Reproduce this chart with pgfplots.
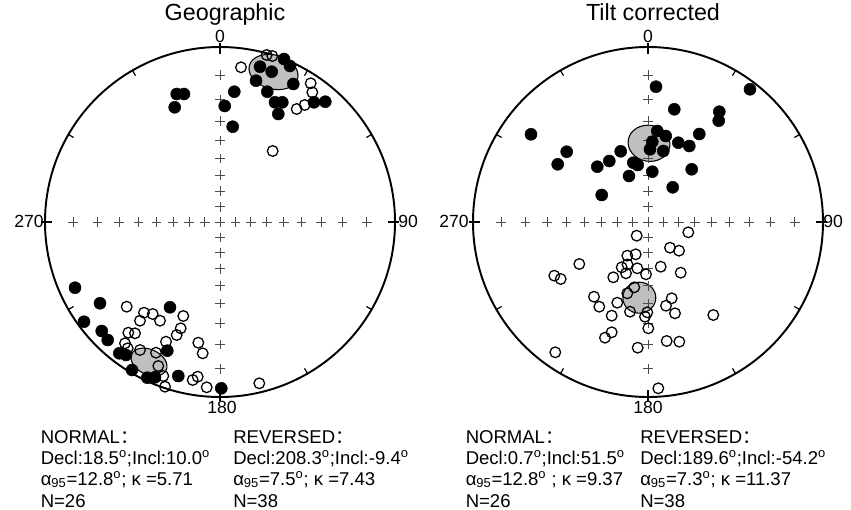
\documentclass[border=0pt]{standalone}
\usepackage{fontspec}
\setmainfont{Liberation Sans}
\newfontfamily\cjk{Noto Sans CJK SC}
\usepackage{pgfplots}
\pgfplotsset{compat=1.18}
\newcommand\tl{\fontsize{13.2}{15}\selectfont}
\newcommand\st{\fontsize{13.9}{16}\selectfont}
\newcommand\ti{\fontsize{17.5}{20}\selectfont}
\newcommand\dg{\textsuperscript{o}}
\pgfplotsset{
  net/.style={anchor=center, scale only axis, width=262.5pt, height=262.5pt,
    xmin=-175, xmax=175, ymin=-175, ymax=175, hide axis, clip=false},
  crosses/.style={only marks, mark=+, mark size=3.6pt, black!70, mark options={line width=0.65pt}},
  fillpt/.style={only marks, mark=*, mark size=4.5pt, mark options={fill=black, draw=black}},
  openpt/.style={only marks, mark=o, mark size=4pt, mark options={fill=white, draw=black, line width=0.95pt}},
}
\newcommand\netframe{%
  \draw[line width=1.45pt] (axis cs:0,0) circle[radius=175];
  \pgfplotsinvokeforeach{30,60,120,150,210,240,300,330}{%
    \draw[line width=0.9pt] (axis cs:{175*sin(##1)},{175*cos(##1)}) -- (axis cs:{169*sin(##1)},{169*cos(##1)});}
  \pgfplotsinvokeforeach{0,90,180,270}{%
    \draw[line width=0.9pt] (axis cs:{179*sin(##1)},{179*cos(##1)}) -- (axis cs:{168*sin(##1)},{168*cos(##1)});}
  \addplot[crosses] coordinates {
    (-146.8,0) (-122.5,0) (-101,0) (-81.6,0) (-63.7,0) (-46.9,0) (-30.9,0) (-15.3,0) (0,0)
    (15.3,0) (30.9,0) (46.9,0) (63.7,0) (81.6,0) (101,0) (122.5,0) (146.8,0)
    (0,-146.8) (0,-122.5) (0,-101) (0,-81.6) (0,-63.7) (0,-46.9) (0,-30.9) (0,-15.3)
    (0,15.3) (0,30.9) (0,46.9) (0,63.7) (0,81.6) (0,101) (0,122.5) (0,146.8)};
}
\begin{document}
\begin{tikzpicture}
\path[use as bounding box] (0,0) rectangle (638.25pt,-382.5pt);

% ---------- Geographic ----------
\begin{axis}[net, at={(165pt,-166.5pt)}]
\netframe
\draw[fill=black!25, line width=0.8pt, rotate around={-15:(axis cs:53.5,150)}] (axis cs:53.5,150) ellipse[x radius=25, y radius=17];
\draw[fill=black!25, line width=0.8pt, rotate around={-25:(axis cs:-71,-140)}] (axis cs:-71,-140) ellipse[x radius=19, y radius=12.5];
% normal, lower hemisphere
\addplot[fillpt] coordinates {
 (64,163) (70,156) (40,155.3) (51.7,150.3) (36,141.3) (73.3,138) (47.3,130.3)
 (14.3,130.3) (-43.3,128) (-36,128) (-45.3,114.7) (4.7,116) (55,119.7) (62.3,119.7)
 (58.3,108) (94,119.7) (105.3,120.3) (12.7,95.3)};
% normal, upper hemisphere
\addplot[openpt] coordinates {
 (46.7,167) (52.3,166) (21,154.7) (90.7,138.7) (92.3,129.7) (84.7,117) (76.7,113) (52.7,71)};
% reversed, upper hemisphere
\addplot[openpt] coordinates {
 (-93.3,-84.7) (-76,-90.7) (-67.3,-92) (-80,-98.7) (-60,-98.7) (-36.7,-94) (-39.3,-106.3)
 (-43.3,-113) (-91.7,-110.7) (-85,-111.3) (-95,-121.3) (-92.3,-126.3) (-54,-119.7)
 (-80,-128) (-64,-130.7) (-21.7,-120.7) (-17.3,-131.3) (-61.7,-144) (-56.7,-154)
 (-55,-164.7) (-27.3,-158) (-22.3,-154.7) (-13.3,-165.3) (39.3,-161.3)};
% reversed, lower hemisphere
\addplot[fillpt] coordinates {
 (-145,-65.7) (-120,-81.3) (-50,-85.3) (-136,-99.7) (-118.3,-109) (-112.3,-118)
 (-100.7,-131.3) (-94,-133) (-52.7,-128.7) (-88,-148) (-72.7,-155.7) (-65,-155.3)
 (-41.7,-154) (1.3,-166.3)};
\end{axis}

% ---------- Tilt corrected ----------
\begin{axis}[net, at={(486pt,-166.5pt)}]
\netframe
\draw[fill=black!25, line width=0.8pt, rotate around={-10:(axis cs:1,78.7)}] (axis cs:1,78.7) ellipse[x radius=21, y radius=18];
\draw[fill=black!25, line width=0.8pt] (axis cs:-8.7,-75.7) ellipse[x radius=16.5, y radius=15.5];
\addplot[fillpt] coordinates {
 (8,135.3) (102,132.7) (26.3,112.7) (71.3,110.3) (70.7,101.3) (-117,87.7) (51.3,88)
 (9.3,91) (17.7,86) (4.3,80.3) (2,72.7) (15.3,71) (30.3,79.3) (41.3,76) (-81.3,70.3)
 (-27.3,70.7) (-90.3,57.7) (-38.7,61) (-50.7,55.3) (-14.7,59.3) (-10.3,57) (4.3,50.3)
 (43.7,52.7) (-19,46) (24.7,34.7) (-46.3,27)};
\addplot[openpt] coordinates {
 (-11.3,-13.7) (40.3,-10.3) (22,-25.7) (31,-28.7) (-20.7,-33.7) (-12.3,-32.3)
 (-68.7,-42) (-26.3,-45.3) (-20.5,-42.5) (-22,-51.3) (-10.7,-46.3) (-2,-52.3)
 (12.7,-44.7) (-34.7,-55.3) (32.7,-50.7) (-93.7,-53.7) (-87.3,-57) (-13.7,-65.3)
 (-20.7,-71.3) (-54,-74.7) (-48.7,-84.7) (-30.7,-80.7) (23.7,-76.3) (18,-83.7)
 (27,-91.3) (-18,-89.7) (-0.7,-90.3) (-3,-94.7) (-36.3,-93.7) (65.3,-93)
 (0.3,-106.3) (-36.3,-110.3) (-43,-115.7) (18.7,-119) (31.3,-119.7) (-10.3,-125.7)
 (-92.7,-130.3) (10.3,-166.3)};
\end{axis}

% ---------- text ----------
\begin{scope}[x=0.75pt, y=-0.75pt, every node/.style={inner sep=0pt}]
\node[anchor=base] at (225,21) {\ti Geographic};
\node[anchor=base] at (653,21) {\ti Tilt corrected};
\node[anchor=base] at (220,43) {\tl 0};
\node[anchor=base] at (648,43) {\tl 0};
\node[anchor=base] at (222,413) {\tl 180};
\node[anchor=base] at (648,413) {\tl 180};
\node[anchor=base east] at (44,228) {\tl 270};
\node[anchor=base east] at (469,228) {\tl 270};
\node[anchor=base west] at (398,228) {\tl 90};
\node[anchor=base west] at (823,228) {\tl 90};

\node[anchor=base west] at (40.5,443) {\st NORMAL{\cjk ：}};
\node[anchor=base west] at (40.5,464) {\st Decl:18.5\dg;Incl:10.0\dg};
\node[anchor=base west] at (40.5,485) {\st α\textsubscript{95}=12.8\dg; κ =5.71};
\node[anchor=base west] at (40.5,507) {\st N=26};
\node[anchor=base west] at (233,443) {\st REVERSED{\cjk ：}};
\node[anchor=base west] at (233,464) {\st Decl:208.3\dg;Incl:-9.4\dg};
\node[anchor=base west] at (233,485) {\st α\textsubscript{95}=7.5\dg; κ =7.43};
\node[anchor=base west] at (233,507) {\st N=38};

\node[anchor=base west] at (465.5,443) {\st NORMAL{\cjk ：}};
\node[anchor=base west] at (465.5,464) {\st Decl:0.7\dg;Incl:51.5\dg};
\node[anchor=base west] at (465.5,485) {\st α\textsubscript{95}=12.8\dg\ ; κ =9.37};
\node[anchor=base west] at (465.5,507) {\st N=26};
\node[anchor=base west] at (640,443) {\st REVERSED{\cjk ：}};
\node[anchor=base west] at (640,464) {\st Decl:189.6\dg;Incl:-54.2\dg};
\node[anchor=base west] at (640,485) {\st α\textsubscript{95}=7.3\dg; κ =11.37};
\node[anchor=base west] at (640,507) {\st N=38};
\end{scope}
\end{tikzpicture}
\end{document}
